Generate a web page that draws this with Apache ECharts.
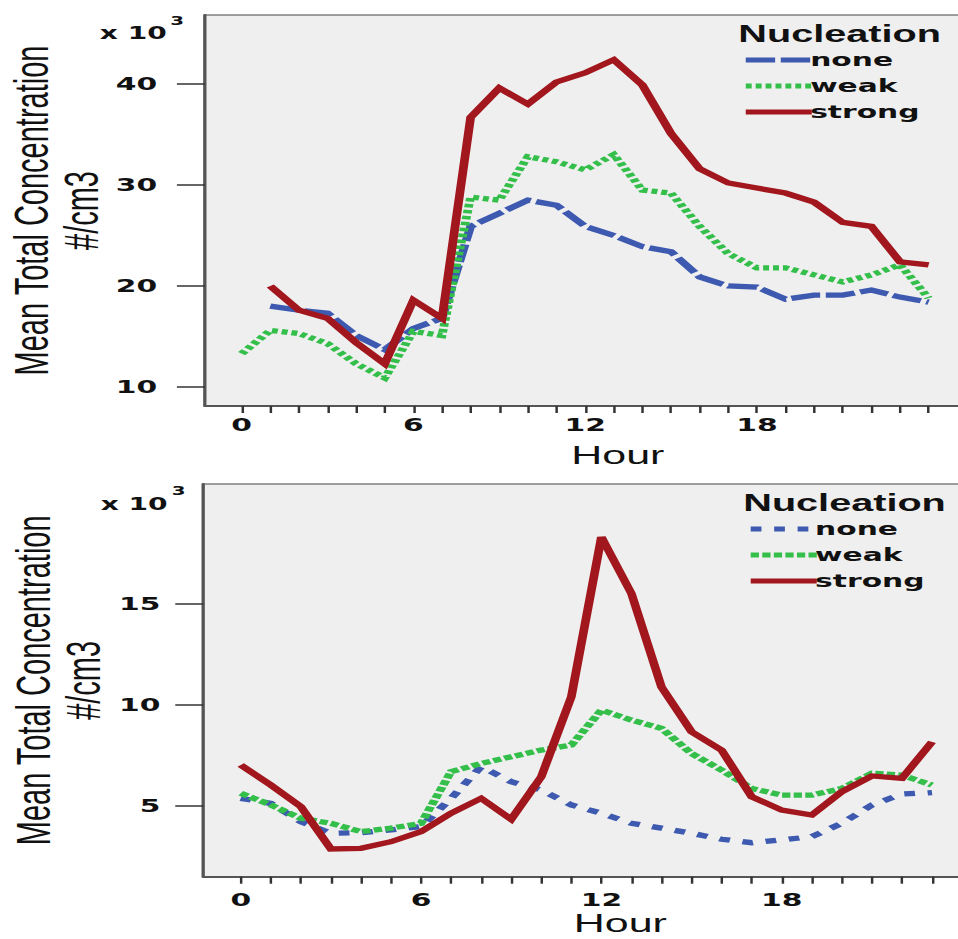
<!DOCTYPE html>
<html>
<head>
<meta charset="utf-8">
<script src="https://cdn.jsdelivr.net/npm/echarts@6/dist/echarts.min.js"></script>
<style>
html,body{margin:0;padding:0;background:#fff;overflow:hidden}
#wrap{width:958px;height:939px;overflow:hidden;position:relative}
#c{width:580px;height:939px;transform:scaleX(1.65172);transform-origin:0 0}
</style>
</head>
<body>
<div id="wrap"><div id="c"></div></div>
<script>
// ---- data (values in units of 10^3 #/cm3) ----
const topHours = [0,1,2,3,4,5,6,7,8,9,10,11,12,13,14,15,16,17,18,19,20,21,22,23,24];
const topNone   = [null,18.0,17.6,17.3,15.1,13.7,15.8,16.8,25.9,27.2,28.5,28.0,25.9,25.0,23.9,23.4,20.9,20.0,19.9,18.7,19.1,19.1,19.6,18.9,18.4];
const topWeak   = [13.3,15.6,15.3,14.3,12.3,10.9,15.5,15.1,28.8,28.5,32.8,32.3,31.5,33.0,29.5,29.2,25.9,23.2,21.8,21.8,21.1,20.4,21.1,22.1,18.8];
const topStrong = [null,20.0,17.6,16.8,14.4,12.3,18.6,16.8,36.7,39.6,38.0,40.2,41.1,42.4,39.9,35.1,31.6,30.2,29.7,29.2,28.3,26.3,25.9,22.4,22.1];

const botHours = [0,1,2,3,4,5,6,7,8,9,10,11,12,13,14,15,16,17,18,19,20,21,22,23];
const botNone   = [5.38,5.13,4.22,3.65,3.68,3.81,3.98,5.38,6.95,6.20,5.79,5.05,4.64,4.14,3.90,3.65,3.35,3.18,3.32,3.48,4.14,5.05,5.59,5.66];
const botWeak   = [5.63,5.05,4.39,4.14,3.73,3.90,4.14,6.70,7.11,7.44,7.77,8.02,9.75,9.26,8.85,7.60,6.78,5.87,5.54,5.54,5.87,6.62,6.53,6.04];
const botStrong = [7.03,6.04,4.97,2.87,2.90,3.23,3.73,4.64,5.38,4.34,6.45,10.41,18.33,15.53,10.90,8.68,7.77,5.46,4.80,4.55,5.71,6.49,6.37,8.18];

const hourLabels = [0,6,12,18];
const topYTicks = [10,20,30,40];
const botYTicks = [5,10,15];
const seriesNames = ['none','weak','strong'];
const legendTitle = 'Nucleation';
const yTitle = 'Mean Total Concentration\n#/cm3';
const xTitle = 'Hour';

// ---- styles ----
const FONT = '"Liberation Sans", Arial, Helvetica, sans-serif';
const WIDE = '"DejaVu Sans", Verdana, sans-serif';
const BLUE = '#3d5ab0', GREEN = '#34bf4b', RED = '#a1171d';
const pairs = (xs, ys) => xs.map((x, i) => [x, ys[i]]);

function xAxisCfg(grid, min, max, ticks, labelMargin, nameGap, namePad) {
  return {
    type: 'value', gridIndex: grid, min: min, max: max,
    axisLine: {show: true, onZero: false, lineStyle: {color: '#555', width: 2}},
    axisTick: {show: true, customValues: ticks, length: 7, lineStyle: {color: '#333', width: 1.5}},
    axisLabel: {customValues: hourLabels, margin: labelMargin, fontSize: 18, fontWeight: 'bold', color: '#111', fontFamily: WIDE},
    splitLine: {show: false},
    name: xTitle, nameLocation: 'middle', nameGap: nameGap, nameMoveOverlap: false,
    nameTextStyle: {fontSize: 26, color: '#111', fontFamily: FONT, padding: [0, 0, 0, namePad]}
  };
}
function yAxisCfg(grid, min, max, ticks, labelMargin, nameGap) {
  return {
    type: 'value', gridIndex: grid, min: min, max: max,
    axisLine: {show: true, onZero: false, lineStyle: {color: '#555', width: 2}},
    axisTick: {show: true, customValues: ticks, length: 17, lineStyle: {color: '#333', width: 1.5}},
    axisLabel: {customValues: ticks, margin: labelMargin, fontSize: 18, fontWeight: 'bold', color: '#111', fontFamily: WIDE},
    splitLine: {show: false},
    name: yTitle, nameLocation: 'middle', nameRotate: 90, nameGap: nameGap, nameMoveOverlap: false,
    nameTextStyle: {fontSize: 29, lineHeight: 30, color: '#111', fontFamily: FONT}
  };
}
function lineSeries(name, xi, xs, ys, color, dash, z) {
  return {
    type: 'line', name: name, xAxisIndex: xi, yAxisIndex: xi,
    data: pairs(xs, ys), symbol: 'none', z: z,
    lineStyle: {color: color, width: 5.3, type: dash, cap: 'butt', join: 'miter'},
    itemStyle: {color: color}
  };
}
function legendCfg(left, top, data) {
  return {
    orient: 'vertical', left: left, top: top, padding: 0, itemWidth: 40, itemHeight: 14, itemGap: 6,
    itemStyle: {opacity: 0},
    lineStyle: {width: 5},
    textStyle: {fontSize: 18, fontWeight: 'bold', color: '#111', fontFamily: WIDE, lineHeight: 20, padding: [0, 0, 0, -6]},
    data: data
  };
}

const chart = echarts.init(document.getElementById('c'), null, {renderer: 'svg'});
chart.setOption({
  animation: false,
  backgroundColor: '#ffffff',
  grid: [
    {left: 124.1, top: 15, right: -4, height: 391, show: true, backgroundColor: '#efefef', borderColor: '#444', borderWidth: 1, outerBoundsMode: 'none'},
    {left: 123.1, top: 484, right: -4, height: 392.7, show: true, backgroundColor: '#efefef', borderColor: '#444', borderWidth: 1, outerBoundsMode: 'none'}
  ],
  xAxis: [
    xAxisCfg(0, -1.281, 25.257, topHours, 10, 36, 40),
    xAxisCfg(1, -1.244, 24.085, botHours, 14, 34, 44)
  ],
  yAxis: [
    yAxisCfg(0, 8.12, 46.83, topYTicks, 29, 60),
    yAxisCfg(1, 1.495, 20.96, botYTicks, 26, 58)
  ],
  title: [
    {text: legendTitle, left: 447, top: 22, padding: 0, textStyle: {fontSize: 24, fontWeight: 'bold', color: '#111', fontFamily: FONT}},
    {text: legendTitle, left: 450, top: 491, padding: 0, textStyle: {fontSize: 24, fontWeight: 'bold', color: '#111', fontFamily: FONT}}
  ],
  legend: [
    legendCfg(449, 50, seriesNames.map(n => ({name: n}))),
    legendCfg(452, 519, [
      {name: 'none', lineStyle: {type: [6.5, 7.7]}},
      {name: 'weak', lineStyle: {type: [5, 2]}},
      {name: 'strong'}
    ])
  ],
  graphic: [
    {type: 'text', x: 101, y: 32.9, style: {text: 'x 10', align: 'right', verticalAlign: 'middle', font: 'bold 17px ' + WIDE, fill: '#111'}},
    {type: 'text', x: 103, y: 20.8, style: {text: '3', align: 'left', verticalAlign: 'middle', font: 'bold 12px ' + WIDE, fill: '#111'}},
    {type: 'text', x: 101.5, y: 503.3, style: {text: 'x 10', align: 'right', verticalAlign: 'middle', font: 'bold 17px ' + WIDE, fill: '#111'}},
    {type: 'text', x: 104, y: 490.8, style: {text: '3', align: 'left', verticalAlign: 'middle', font: 'bold 12px ' + WIDE, fill: '#111'}}
  ],
  series: [
    lineSeries('none', 0, topHours, topNone, BLUE, [17.8, 3.4], 2),
    lineSeries('weak', 0, topHours, topWeak, GREEN, [3.6, 2.4], 3),
    lineSeries('strong', 0, topHours, topStrong, RED, 'solid', 4),
    lineSeries('none', 1, botHours, botNone, BLUE, [6.5, 7.7], 2),
    lineSeries('weak', 1, botHours, botWeak, GREEN, [5, 2], 3),
    lineSeries('strong', 1, botHours, botStrong, RED, 'solid', 4)
  ]
});
</script>
</body>
</html>
